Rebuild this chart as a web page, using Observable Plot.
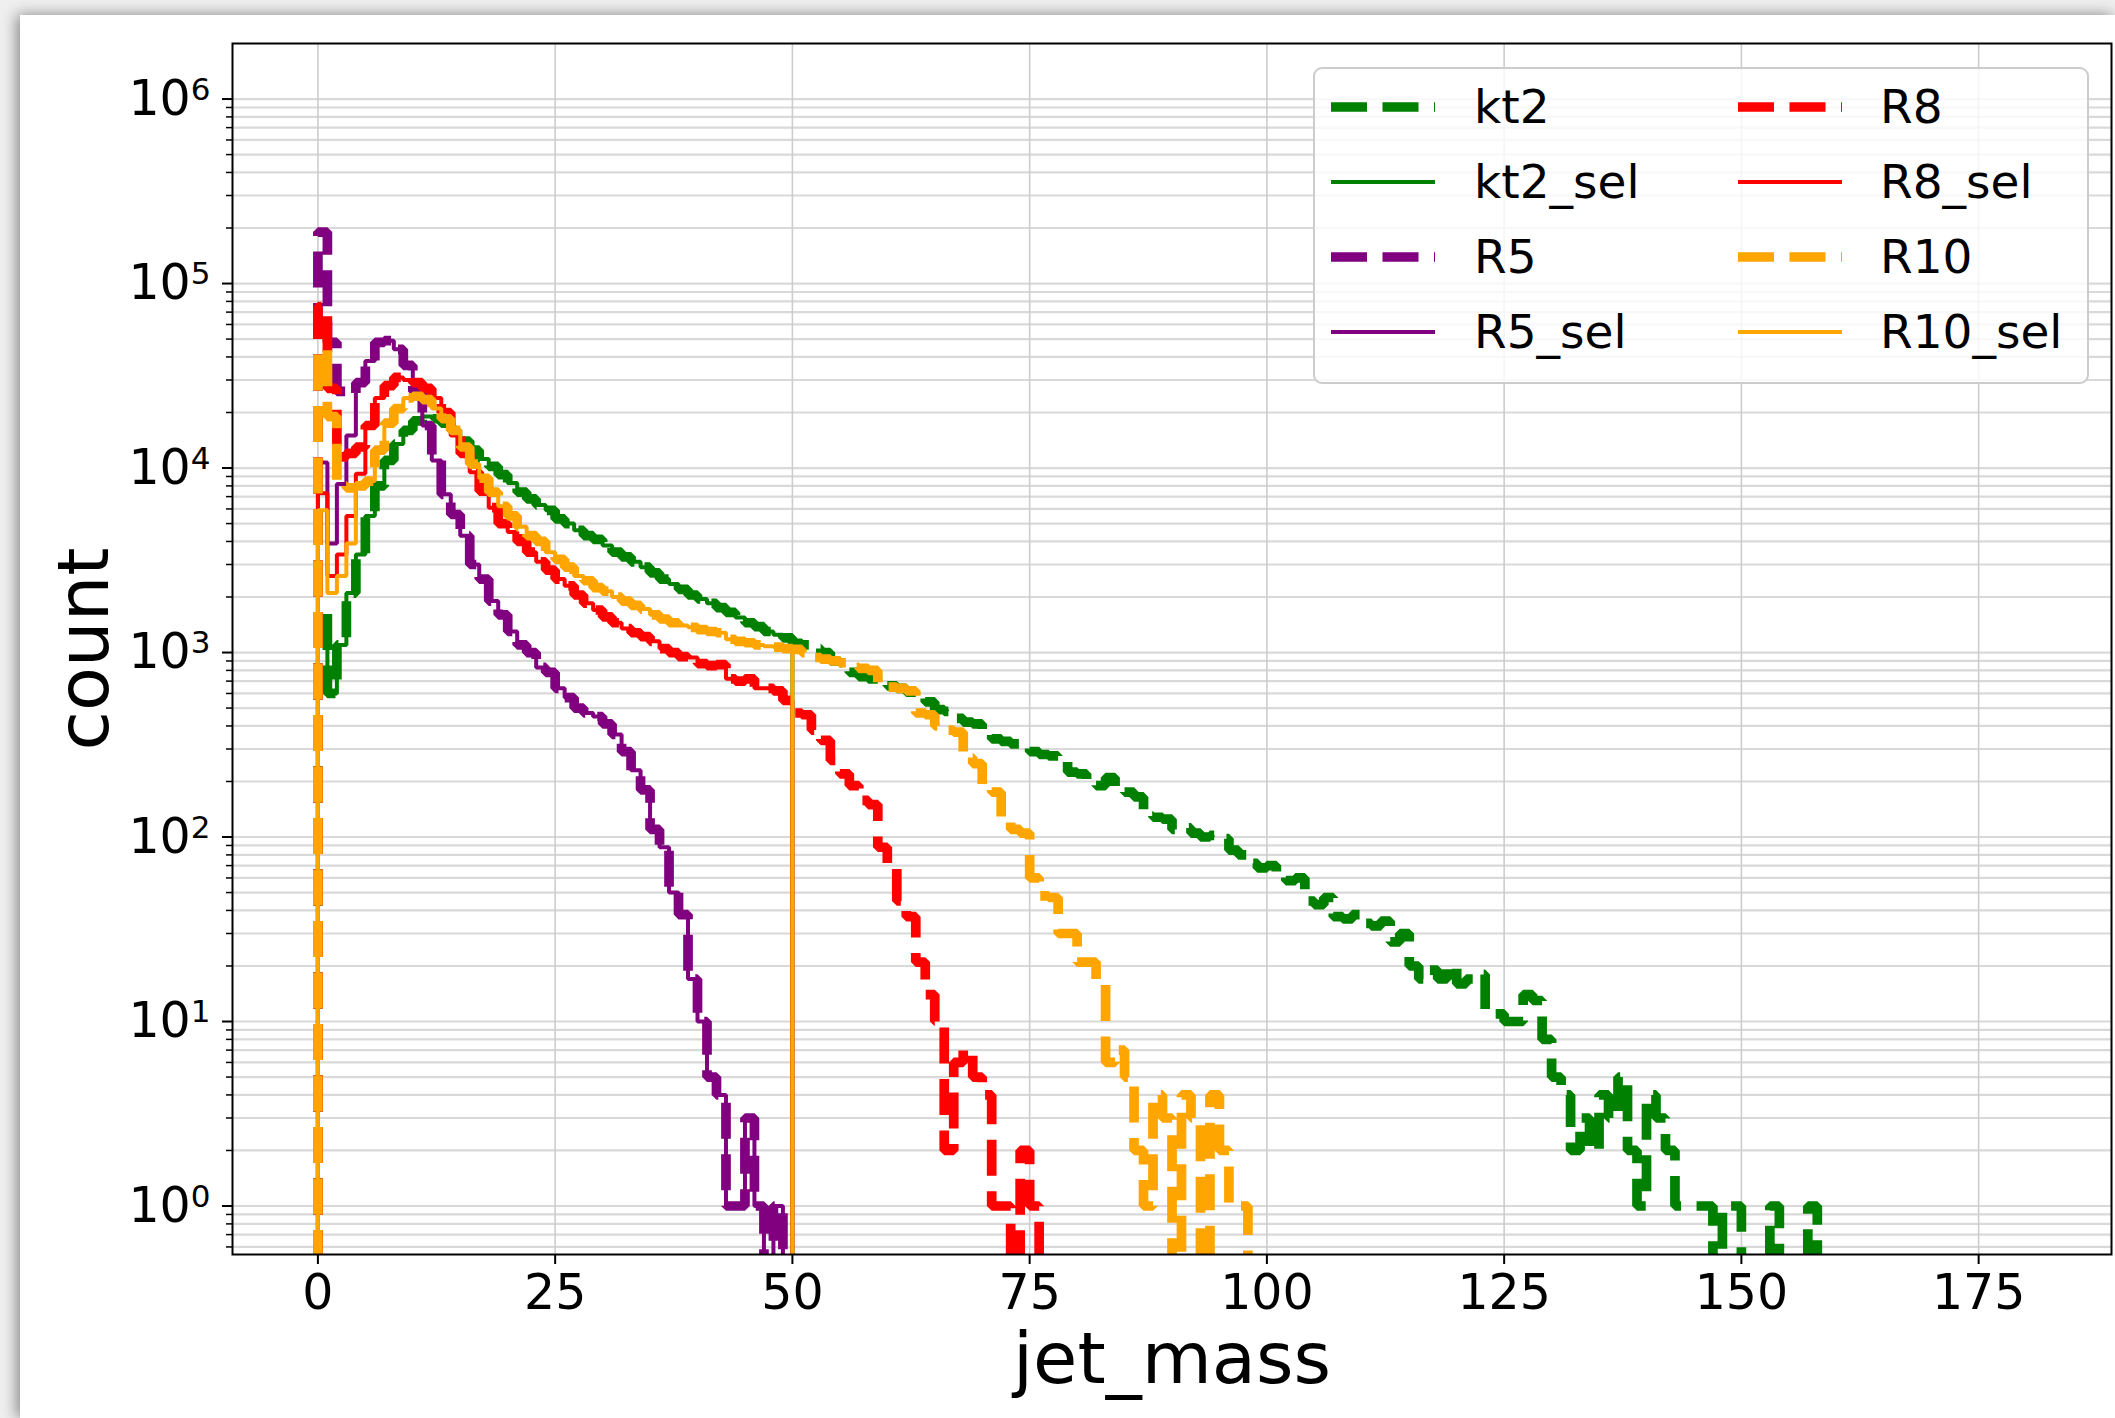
<!DOCTYPE html>
<html>
<head>
<meta charset="utf-8">
<script src="https://cdn.jsdelivr.net/npm/d3@7"></script>
<script src="https://cdn.jsdelivr.net/npm/@observablehq/plot@0.6"></script>
<style>
  html, body { margin: 0; padding: 0; overflow: hidden; width: 2115px; height: 1418px; background: #efefef; }
  #card { position: absolute; left: 20px; top: 15px; width: 2095px; height: 1403px; background: #fff;
          box-shadow: -3px 0 14px rgba(0,0,0,0.45); }
  #chart { position: absolute; left: 0; top: 0; width: 2115px; height: 1418px; }
  #legend { position: absolute; left: 1313px; top: 67px; }
  text { font-family: "DejaVu Sans", sans-serif; }
</style>
</head>
<body>
<div id="card"></div>
<div id="chart"></div>
<div id="legend"></div>
<script>
// Jet-mass histograms: 1-unit bins on [0, 180), counts per bin (zero beyond the last listed bin).
const NBINS = 180;
const xTicks = [0, 25, 50, 75, 100, 125, 150, 175];

const seriesNames = ["kt2", "kt2_sel", "R5", "R5_sel", "R8", "R8_sel", "R10", "R10_sel"];
const seriesColors = ["green", "green", "purple", "purple", "red", "red", "orange", "orange"];
const seriesDashed = [true, false, true, false, true, false, true, false];

const kt2Counts = [
  1700, 600, 1100, 2100, 3400, 5500, 8000, 11000, 13500, 16000,
  18000, 19000, 18500, 17500, 16000, 14000, 12500, 11200, 10200, 9200,
  8300, 7400, 6800, 6300, 5900, 5300, 5000, 4600, 4300, 4100,
  3800, 3500, 3300, 3100, 2900, 2700, 2500, 2350, 2200, 2050,
  1950, 1850, 1750, 1650, 1550, 1450, 1380, 1300, 1250, 1200,
  1120, 1100, 1050, 1000, 900, 880, 780, 740, 720, 700,
  660, 640, 610, 590, 540, 490, 480, 440, 420, 410,
  380, 340, 330, 320, 310, 290, 280, 275, 270, 225,
  220, 200, 190, 210, 180, 175, 165, 130, 128, 125,
  110, 112, 105, 100, 102, 98, 85, 80, 72, 68,
  70, 62, 58, 60, 45, 43, 47, 37, 36, 38,
  34, 33, 35, 27, 30, 20, 17, 19, 17, 20,
  16, 17, 18, 11, 11, 10, 10, 14, 13, 8,
  5, 4, 2, 3, 2, 4, 3, 5, 2, 1,
  4, 3, 2, 1, 1, 1, 1, 0, 1, 1,
  0, 0, 0, 1, 0, 0, 0, 1
];

const r5Counts = [
  190000, 48000, 26000, 25000, 29000, 38000, 48000, 49000, 44000, 36000,
  26000, 17000, 11000, 7200, 5600, 4300, 3000, 2500, 1900, 1600,
  1300, 1100, 1000, 830, 780, 640, 570, 500, 470, 450,
  410, 360, 290, 230, 180, 110, 88, 50, 38, 17,
  10, 5, 4, 1, 1, 3, 1, 0, 1
];

const r8Counts = [
  75000, 27000, 11500, 12000, 13000, 17000, 24000, 28000, 31000, 30000,
  29000, 27000, 24000, 20000, 15000, 12000, 9500, 7500, 6100, 5000,
  4500, 4000, 3500, 3100, 2800, 2500, 2300, 2050, 1850, 1700,
  1560, 1450, 1350, 1280, 1220, 1150, 1050, 1000, 950, 940,
  870, 850, 860, 720, 700, 720, 640, 640, 620, 550,
  470, 460, 380, 334, 260, 220, 190, 158, 150, 88,
  72, 45, 37, 21, 14, 10, 2, 6, 7, 5,
  4, 1, 1, 0, 2, 1
];

const r10Counts = [
  44000, 19000, 8000, 7800, 8000, 8500, 12500, 17500, 21000, 24000,
  24500, 23500, 21000, 18500, 16000, 13000, 10500, 8800, 7400, 6200,
  5500, 4800, 4300, 4000, 3500, 3200, 2900, 2600, 2450, 2250,
  2150, 2000, 1900, 1800, 1720, 1600, 1520, 1450, 1400, 1370,
  1330, 1300, 1280, 1180, 1150, 1130, 1100, 1080, 1070, 1050,
  1040, 1000, 940, 920, 900, 880, 830, 820, 800, 660,
  650, 640, 620, 470, 460, 400, 380, 370, 270, 250,
  190, 175, 120, 110, 105, 60, 48, 47, 30, 30,
  21, 21, 16, 6, 7, 5, 2, 1, 4, 3,
  0, 4, 3, 0, 4, 2, 1, 1
];

// Selected samples: jet_mass < SEL_CUT; their lowest-mass bins differ from the full samples.
const SEL_CUT = 50;
const kt2SelLow = [1100];
const r5SelLow = [10700, 3900, 8200, 15000];
const r8SelLow = [7300, 2600, 3400, 5500, 9300];
const r10SelLow = [5900, 2100, 2600, 3900];

function selected(full, low) {
  return full.slice(0, SEL_CUT).map((v, i) => (i < low.length ? low[i] : v));
}

const seriesCounts = [
  kt2Counts, selected(kt2Counts, kt2SelLow),
  r5Counts, selected(r5Counts, r5SelLow),
  r8Counts, selected(r8Counts, r8SelLow),
  r10Counts, selected(r10Counts, r10SelLow)
];

// Empty bins sit far below the frame so the step outline drops out of view.
const FLOOR = 1e-2;
function outline(counts) {
  const c = (i) => (i < counts.length && counts[i] > 0 ? counts[i] : FLOOR);
  const pts = [{x: 0, y: FLOOR}];
  for (let i = 0; i < NBINS; i++) pts.push({x: i, y: c(i)});
  pts.push({x: NBINS, y: c(NBINS - 1)});
  pts.push({x: NBINS, y: FLOOR});
  return pts;
}

const THICK = 9.7, THIN = 4, DASH = "36,15.5";
const colorHex = {green: "#008000", purple: "#800080", red: "#ff0000", orange: "#ffa500"};

const yMajor = d3.range(0, 7).map((e) => 10 ** e);
const yMinor = d3.range(-1, 7)
  .flatMap((e) => d3.range(2, 10).map((k) => k * 10 ** e))
  .filter((v) => v > 0.546 && v < 2.0e6);

const histMarks = seriesNames.map((name, i) =>
  Plot.line(outline(seriesCounts[i]), {
    x: "x", y: "y", curve: "step-after",
    stroke: colorHex[seriesColors[i]],
    strokeWidth: seriesDashed[i] ? THICK : THIN,
    strokeDasharray: seriesDashed[i] ? DASH : null,
    strokeLinejoin: "miter", strokeLinecap: "butt",
    clip: true
  })
);

const chart = Plot.plot({
  width: 2115, height: 1418,
  marginLeft: 232, marginRight: 4, marginTop: 43, marginBottom: 164,
  style: {background: "transparent", fontFamily: "DejaVu Sans", fontSize: "49px", color: "black", overflow: "visible"},
  x: {type: "linear", domain: [-9, 189]},
  y: {type: "log", domain: [0.546, 2.0e6]},
  marks: [
    Plot.gridY(yMinor, {stroke: "#d9d9d9", strokeOpacity: 1, strokeWidth: 2.2}),
    Plot.gridY(yMajor, {stroke: "#d9d9d9", strokeOpacity: 1, strokeWidth: 2.2}),
    Plot.gridX(xTicks, {stroke: "#cdcdcd", strokeOpacity: 1, strokeWidth: 1.6}),
    ...histMarks,
    Plot.axisX(xTicks, {anchor: "bottom", tickSize: 10, tickPadding: 10, strokeWidth: 2,
      fontSize: 49, label: "jet_mass", labelAnchor: "center", labelOffset: 128, labelArrow: "none"}),
    Plot.axisY(yMinor, {anchor: "left", tickSize: 6, strokeWidth: 1.5, tickFormat: () => "", label: null}),
    Plot.axisY(yMajor, {anchor: "left", tickSize: 10, tickPadding: 12, strokeWidth: 2, fontSize: 49,
      tickFormat: (d) => `10^${Math.round(Math.log10(d))}`,
      label: "count", labelAnchor: "center", labelOffset: 176, labelArrow: "none"}),
    Plot.frame({stroke: "black", strokeWidth: 2})
  ]
});
document.getElementById("chart").appendChild(chart);

// Powers of ten with a raised exponent.
const SVGNS = "http://www.w3.org/2000/svg";
chart.querySelectorAll('g[aria-label="y-axis tick label"] text').forEach((t) => {
  const m = /^10\^(-?\d+)$/.exec(t.textContent);
  if (!m) return;
  t.textContent = "10";
  const sup = document.createElementNS(SVGNS, "tspan");
  sup.setAttribute("font-size", "31");
  sup.setAttribute("dy", "-15");
  sup.textContent = m[1];
  t.appendChild(sup);
});
chart.querySelectorAll('g[aria-label="x-axis label"] text, g[aria-label="y-axis label"] text')
  .forEach((t) => t.setAttribute("font-size", "72"));

// Legend: two columns, filled column by column.
const LW = 774, LH = 315;
const leg = d3.create("svg").attr("width", LW + 2).attr("height", LH + 2)
  .style("font-family", "DejaVu Sans").style("font-size", "47px");
leg.append("rect").attr("x", 1).attr("y", 1).attr("width", LW).attr("height", LH)
  .attr("rx", 8).attr("fill", "white").attr("fill-opacity", 0.8)
  .attr("stroke", "#cccccc").attr("stroke-width", 2);
seriesNames.forEach((name, i) => {
  const col = Math.floor(i / 4), row = i % 4;
  const hx = col ? 425 : 18, tx = col ? 567 : 161, cy = 40 + row * 75;
  leg.append("line").attr("x1", hx).attr("x2", hx + 104).attr("y1", cy).attr("y2", cy)
    .attr("stroke", colorHex[seriesColors[i]])
    .attr("stroke-width", seriesDashed[i] ? THICK : THIN)
    .attr("stroke-dasharray", seriesDashed[i] ? DASH : null);
  leg.append("text").attr("x", tx).attr("y", cy).attr("dy", "0.35em").attr("fill", "black").text(name);
});
document.getElementById("legend").appendChild(leg.node());
</script>
</body>
</html>
